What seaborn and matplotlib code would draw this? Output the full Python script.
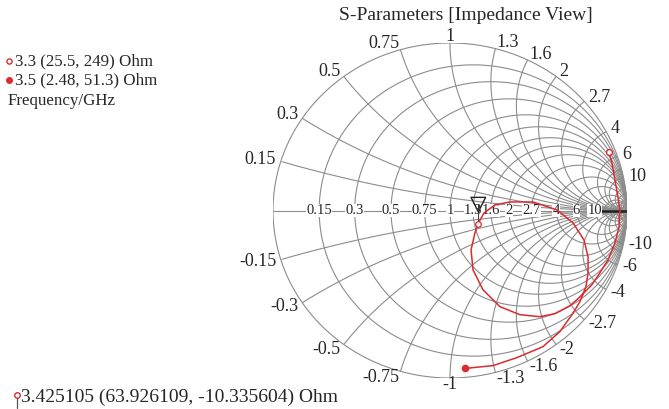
import numpy as np
import pandas as pd
import matplotlib
matplotlib.use("Agg")
import matplotlib.pyplot as plt
import seaborn as sns

# ---------------- data ----------------
title = "S-Parameters [Impedance View]"
r_labeled = [0.15, 0.3, 0.5, 0.75, 1, 1.3, 1.6, 2, 2.7, 4, 6, 10]
r_extra = [15, 20, 30, 50, 100, 200]
x_labeled = [0.15, 0.3, 0.5, 0.75, 1, 1.3, 1.6, 2, 2.7, 4, 6, 10]
x_extra = [8, 15, 20, 30, 50, 100, 200]

# reflection coefficient of the S11 trace, 3.3 -> 3.5 GHz
curve_re = [0.898, 0.915, 0.932, 0.949, 0.960, 0.955, 0.932, 0.893, 0.847, 0.802,
            0.763, 0.720, 0.678, 0.593, 0.508, 0.395, 0.282, 0.186, 0.130, 0.119,
            0.141, 0.158, 0.192, 0.254, 0.339, 0.469, 0.605, 0.695, 0.757, 0.780,
            0.780, 0.768, 0.734, 0.689, 0.621, 0.525, 0.379, 0.243, 0.085]
curve_im = [0.348, 0.283, 0.182, 0.080, 0.003, -0.098, -0.193, -0.295, -0.372, -0.443,
            -0.485, -0.530, -0.568, -0.616, -0.634, -0.622, -0.574, -0.473, -0.354, -0.235,
            -0.134, -0.080, -0.015, 0.033, 0.051, 0.051, 0.003, -0.074, -0.176, -0.277,
            -0.372, -0.455, -0.545, -0.622, -0.723, -0.813, -0.878, -0.926, -0.943]

start_label = "3.3 (25.5, 249) Ohm"
end_label = "3.5 (2.48, 51.3) Ohm"
unit_label = "Frequency/GHz"
cursor_label = "3.425105 (63.926109, -10.335604) Ohm"
cursor_gamma = (0.160, -0.078)

RED = "#dc2a30"
GRID = "#8c8c8c"
W, H = 669, 409

sns.set_theme(style="white")
plt.rcParams["font.family"] = ["Liberation Serif", "DejaVu Serif"]

fig = plt.figure(figsize=(W / 100, H / 100), dpi=100)
fig.patch.set_facecolor("white")
ax = fig.add_axes([273 / W, 31 / H, 354 / W, 335 / H])
ax.set_xlim(-1, 1)
ax.set_ylim(-1, 1)
ax.axis("off")

th = np.linspace(0, 2 * np.pi, 2881)

# resistance circles (incl. outer circle r=0)
for r in [0] + r_labeled + r_extra:
    c, rad = r / (1 + r), 1 / (1 + r)
    ax.plot(c + rad * np.cos(th), rad * np.sin(th), color=GRID, lw=0.8, zorder=1)

# reactance arcs
for xv in x_labeled + x_extra:
    for s in (1, -1):
        x = s * xv
        cx, cy, rad = 1.0, 1.0 / x, 1.0 / abs(x)
        px = cx + rad * np.cos(th)
        py = cy + rad * np.sin(th)
        m = px ** 2 + py ** 2 > 1.0001
        px = np.where(m, np.nan, px)
        py = np.where(m, np.nan, py)
        ax.plot(px, py, color=GRID, lw=0.8, zorder=1)

ax.plot([-1, 1], [0, 0], color=GRID, lw=0.8, zorder=1)
ax.plot([0.84, 1], [0, 0], color="#222222", lw=1.8, zorder=2)

# real axis labels
for r in r_labeled:
    g = (r - 1) / (r + 1)
    ax.text(g, 0, f"{r:g}", fontsize=10.5, ha="center", va="center", zorder=3,
            bbox=dict(facecolor="white", edgecolor="none", pad=0.2))

# outer reactance labels
for xv in x_labeled:
    for s in (1, -1):
        x = s * xv
        ang = s * (np.pi - 2 * np.arctan(xv))
        cs, sn = np.cos(ang), np.sin(ang)
        ha = "left" if cs > 0.05 else ("right" if cs < -0.05 else "center")
        ax.annotate(f"{x:g}", (cs, sn), xytext=(3.5 * cs, 4.5 * sn), textcoords="offset points",
                    fontsize=13, ha=ha, va="center", annotation_clip=False, zorder=3)

# S11 trace
df = pd.DataFrame({"re": curve_re, "im": curve_im})
sns.lineplot(data=df, x="re", y="im", sort=False, estimator=None, color=RED, lw=1.1, ax=ax, zorder=4)
ax.set_xlim(-1, 1)
ax.set_ylim(-1, 1)
ax.scatter([curve_re[0]], [curve_im[0]], s=18, facecolor="white", edgecolor=RED, lw=1.0, zorder=5)
ax.scatter([curve_re[-1]], [curve_im[-1]], s=20, color=RED, zorder=5)

# cursor
cx, cy = cursor_gamma
ax.plot([cx, cx], [cy, 0.04], color="#444444", lw=0.8, zorder=5)
ax.scatter([cx], [cy], s=16, facecolor="white", edgecolor=RED, lw=0.9, zorder=6)
ax.scatter([cx], [0.035], marker="v", s=110, facecolor="none", edgecolor="#222222", lw=1.0, zorder=6)

# title and legend texts (figure pixel coords)
def ftext(xp, yp, s, **kw):
    fig.text(xp / W, 1 - yp / H, s, **kw)

ftext(466, 15, title, fontsize=14, ha="center", va="center")
ftext(15, 61, start_label, fontsize=12.2, ha="left", va="center")
ftext(15, 80, end_label, fontsize=12.2, ha="left", va="center")
ftext(8, 101, unit_label, fontsize=12.2, ha="left", va="center")
ftext(21, 397, cursor_label, fontsize=14, ha="left", va="center")

lax = fig.add_axes([0, 0, 1, 1])
lax.set_xlim(0, W)
lax.set_ylim(H, 0)
lax.axis("off")
lax.patch.set_alpha(0)
lax.scatter([9], [61], s=14, facecolor="white", edgecolor=RED, lw=1.0)
lax.scatter([9], [80], s=16, color=RED)
lax.plot([17, 17], [398, 408], color="#555555", lw=0.9)
lax.scatter([17], [395], s=16, facecolor="white", edgecolor=RED, lw=1.0)

fig.savefig("out.png", dpi=100, facecolor="white")
